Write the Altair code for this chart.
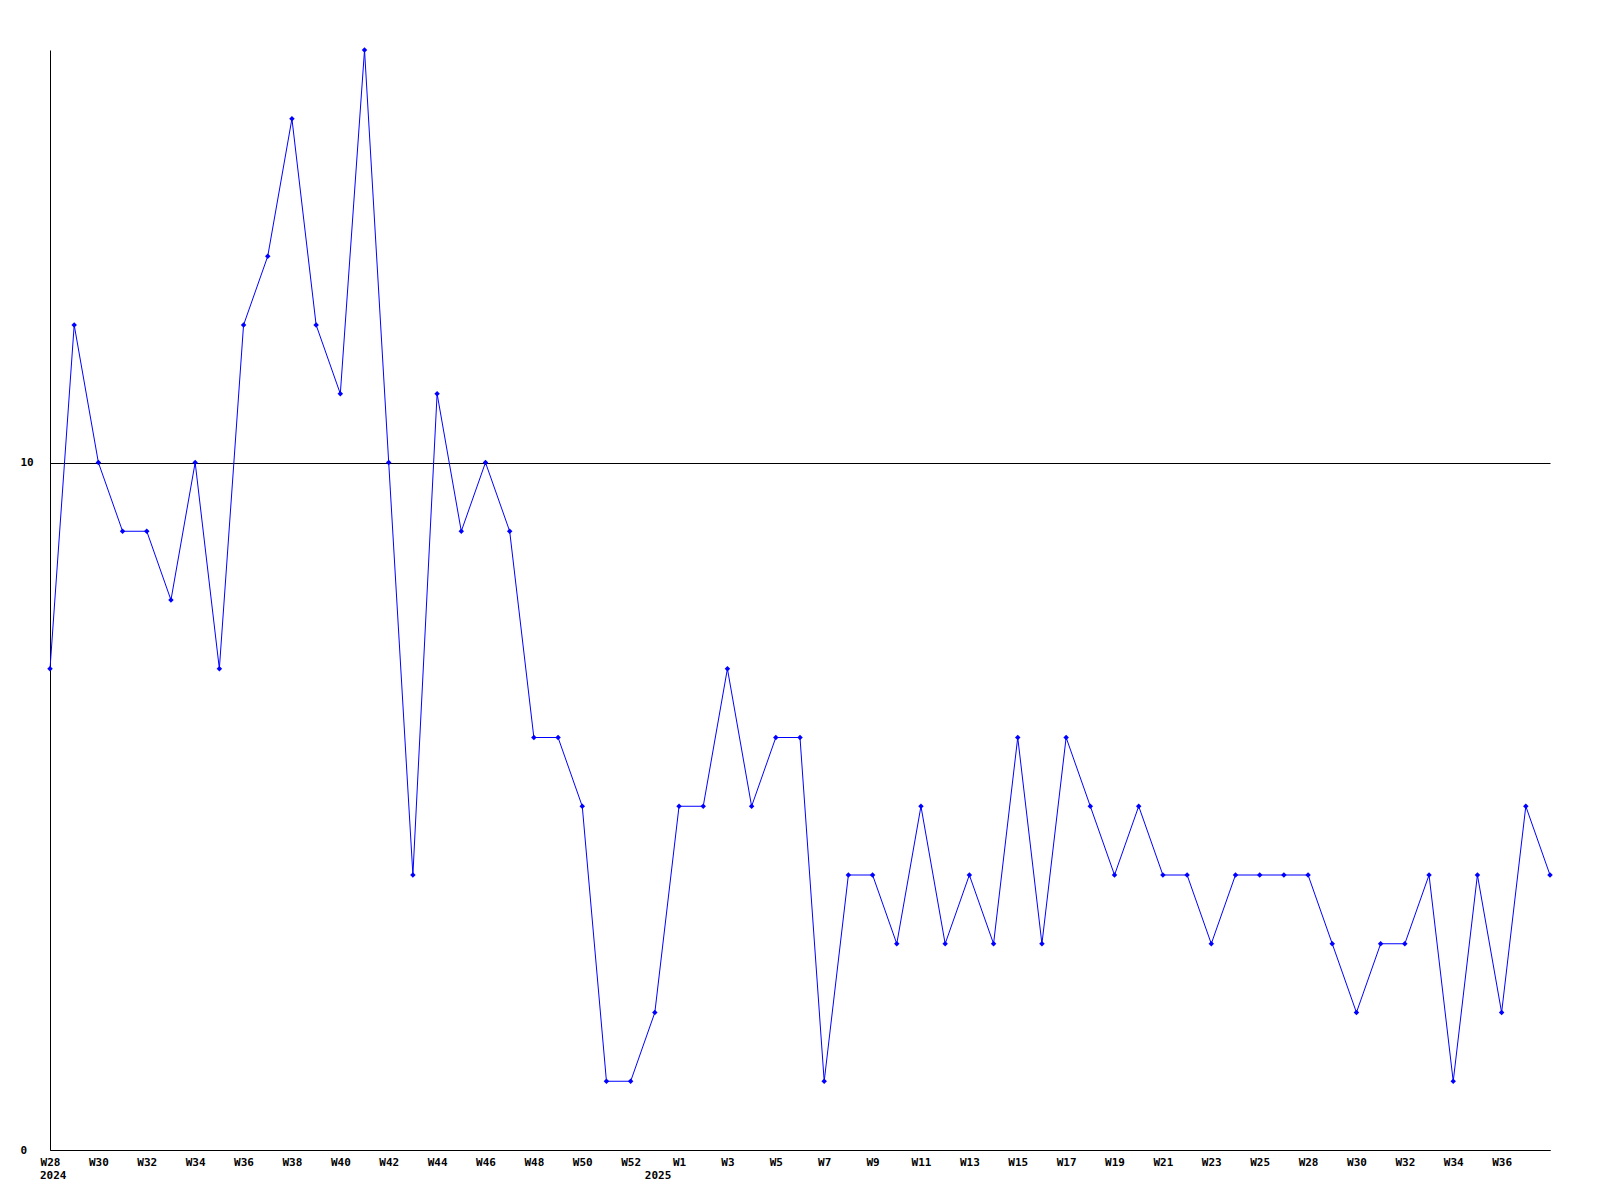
import altair as alt
import pandas as pd

weeks = [
    "W28 2024", "W29 2024", "W30 2024", "W31 2024", "W32 2024", "W33 2024", "W34 2024",
    "W35 2024", "W36 2024", "W37 2024", "W38 2024", "W39 2024", "W40 2024", "W41 2024",
    "W42 2024", "W43 2024", "W44 2024", "W45 2024", "W46 2024", "W47 2024", "W48 2024",
    "W49 2024", "W50 2024", "W51 2024", "W52 2024", "W53 2024",
    "W1 2025", "W2 2025", "W3 2025", "W4 2025", "W5 2025", "W6 2025", "W7 2025",
    "W8 2025", "W9 2025", "W10 2025", "W11 2025", "W12 2025", "W13 2025", "W14 2025",
    "W15 2025", "W16 2025", "W17 2025", "W18 2025", "W19 2025", "W20 2025", "W21 2025",
    "W22 2025", "W23 2025", "W24 2025", "W25 2025", "W26 2025", "W28 2025", "W29 2025",
    "W30 2025", "W31 2025", "W32 2025", "W33 2025", "W34 2025", "W35 2025", "W36 2025",
    "W37 2025", "W38 2025",
]
values = [
    7, 12, 10, 9, 9, 8, 10, 7, 12, 13, 15, 12, 11, 16, 10, 4, 11, 9, 10, 9, 6, 6, 5, 1, 1, 2,
    5, 5, 7, 5, 6, 6, 1, 4, 4, 3, 5, 3, 4, 3, 6, 3, 6, 5, 4, 5, 4, 4, 3, 4, 4, 4, 4, 3,
    2, 3, 3, 4, 1, 4, 2, 5, 4,
]
tick_weeks = [
    "W28 2024", "W30 2024", "W32 2024", "W34 2024", "W36 2024", "W38 2024", "W40 2024",
    "W42 2024", "W44 2024", "W46 2024", "W48 2024", "W50 2024", "W52 2024",
    "W1 2025", "W3 2025", "W5 2025", "W7 2025", "W9 2025", "W11 2025", "W13 2025",
    "W15 2025", "W17 2025", "W19 2025", "W21 2025", "W23 2025", "W25 2025",
    "W28 2025", "W30 2025", "W32 2025", "W34 2025", "W36 2025",
]
year_weeks = ["W28 2024", "W53 2024"]
year_texts = ["2024", "2025"]

df = pd.DataFrame({"week": weeks, "value": values})
years = pd.DataFrame({"week": year_weeks, "year": year_texts})

FONT = "DejaVu Sans Mono"
W, H = 1500, 1100

xscale = alt.Scale(type="point", padding=0, domain=weeks)
yscale = alt.Scale(domain=[0, 16], nice=False, zero=True)

x = alt.X(
    "week:N",
    sort=weeks,
    scale=xscale,
    axis=alt.Axis(
        title=None, values=tick_weeks, labelExpr="split(datum.value, ' ')[0]",
        ticks=False, grid=False, domainColor="black", domainOpacity=1, labelColor="black",
        labelFont=FONT, labelFontWeight="bold", labelFontSize=11, labelPadding=6,
        labelAngle=0, labelOverlap=False,
    ),
)
y = alt.Y(
    "value:Q",
    scale=yscale,
    axis=alt.Axis(
        title=None, values=[0, 10], format="d", ticks=False, grid=True, gridColor="black",
        gridOpacity=1, gridWidth=1, domainColor="black", domainOpacity=1, labelColor="black",
        labelFont=FONT, labelFontWeight="bold", labelFontSize=11, labelAlign="left",
        labelPadding=30, labelBaseline="middle",
    ),
)

line = alt.Chart(df).mark_line(color="#0000ff", strokeWidth=1).encode(x=x, y=y)
pts = alt.Chart(df).mark_point(shape="diamond", filled=True, color="#0000ff", size=30, opacity=1).encode(
    x=x,
    y=y,
)
yr = alt.Chart(years).mark_text(
    font=FONT, fontWeight="bold", fontSize=11, color="black", align="left", baseline="middle", dx=-10
).encode(
    x=x,
    y=alt.value(H + 26),
    text="year:N",
)

chart = (
    alt.layer(line, pts, yr)
    .properties(width=W, height=H, autosize=alt.AutoSizeParams(type="none"),
                padding={"left": 42, "top": 42, "right": 42, "bottom": 42},
                view=alt.ViewBackground(stroke="transparent", strokeWidth=0))
    .configure_view(stroke="transparent", strokeWidth=0)
    .configure(background="white")
)
chart.save("out.html", embed_options={"renderer": "svg", "actions": False})
